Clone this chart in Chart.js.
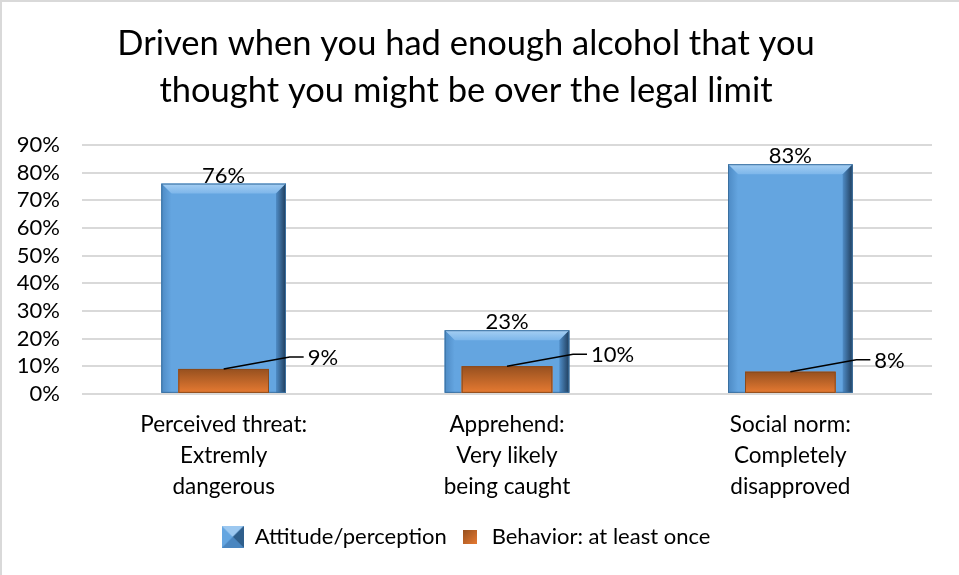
<!DOCTYPE html>
<html>
<head>
<meta charset="utf-8">
<script src="https://cdn.jsdelivr.net/npm/chart.js@4.4.0/dist/chart.umd.min.js"></script>
<style>
  html, body { margin: 0; padding: 0; background: #fff; }
  #wrap { width: 959px; height: 575px; position: relative; }
</style>
</head>
<body>
<div id="wrap"><canvas id="chart"></canvas></div>
<script>
const categories = [
    ['Perceived threat:', 'Extremly', 'dangerous'],
    ['Apprehend:', 'Very likely', 'being caught'],
    ['Social norm:', 'Completely', 'disapproved']
];
const attitudeValues = [76, 23, 83];
const behaviorValues = [9, 10, 8];
const yTicks = [0, 10, 20, 30, 40, 50, 60, 70, 80, 90];
const titleLines = ['Driven when you had enough alcohol that you', 'thought you might be over the legal limit'];

const FONT = 'Lato, "Open Sans", sans-serif';
const BLUE = '#64a5e0';
const ORANGE_TOP = '#96501f';
const ORANGE_BOTTOM = '#e67a32';

// legend swatches: bevelled blue square and shaded orange square
function makeBlueSwatch() {
    const c = document.createElement('canvas');
    c.width = 22; c.height = 22;
    const g = c.getContext('2d');
    g.fillStyle = BLUE;
    g.fillRect(0, 0, 22, 22);
    g.fillStyle = '#9cc8f0';
    g.beginPath(); g.moveTo(0, 0); g.lineTo(22, 0); g.lineTo(11, 11); g.closePath(); g.fill();
    g.fillStyle = '#2f5f8c';
    g.beginPath(); g.moveTo(22, 0); g.lineTo(22, 22); g.lineTo(11, 11); g.closePath(); g.fill();
    g.fillStyle = '#4a86c0';
    g.beginPath(); g.moveTo(0, 22); g.lineTo(22, 22); g.lineTo(11, 11); g.closePath(); g.fill();
    return c;
}
function makeOrangeSwatch() {
    const c = document.createElement('canvas');
    c.width = 14; c.height = 14;
    const g = c.getContext('2d');
    const grad = g.createLinearGradient(0, 0, 14, 14);
    grad.addColorStop(0, ORANGE_TOP);
    grad.addColorStop(1, ORANGE_BOTTOM);
    g.fillStyle = grad;
    g.fillRect(0, 0, 14, 14);
    return c;
}

// white background plus the thin frame on the top and left edges
const backgroundFrame = {
    id: 'backgroundFrame',
    beforeDraw(chart) {
        const ctx = chart.ctx;
        ctx.save();
        ctx.fillStyle = '#fff';
        ctx.fillRect(0, 0, chart.width, chart.height);
        ctx.strokeStyle = '#d9d9d9';
        ctx.lineWidth = 2;
        ctx.beginPath();
        ctx.moveTo(1, chart.height);
        ctx.lineTo(1, 1);
        ctx.lineTo(chart.width, 1);
        ctx.stroke();
        ctx.restore();
    }
};

// bevel shading on the bars, drawn right after each dataset
const barBevel = {
    id: 'barBevel',
    afterDatasetDraw(chart, args) {
        const ctx = chart.ctx;
        const meta = args.meta;
        ctx.save();
        meta.data.forEach(bar => {
            const p = bar.getProps(['x', 'y', 'base', 'width'], true);
            const l = p.x - p.width / 2, r = p.x + p.width / 2, t = p.y, b = p.base;
            if (args.index === 0) {
                const s = 10;
                // top face
                const tg = ctx.createLinearGradient(0, t, 0, t + s);
                tg.addColorStop(0, '#a6cff3');
                tg.addColorStop(1, '#7db6ea');
                ctx.fillStyle = tg;
                ctx.beginPath();
                ctx.moveTo(l, t); ctx.lineTo(r, t); ctx.lineTo(r - s, t + s); ctx.lineTo(l + s, t + s);
                ctx.closePath(); ctx.fill();
                // right side
                const rg = ctx.createLinearGradient(r - s, 0, r, 0);
                rg.addColorStop(0, '#4f8cc6');
                rg.addColorStop(1, '#1f3c5a');
                ctx.fillStyle = rg;
                ctx.beginPath();
                ctx.moveTo(r, t); ctx.lineTo(r, b); ctx.lineTo(r - s, b); ctx.lineTo(r - s, t + s);
                ctx.closePath(); ctx.fill();
                // left side
                const lg = ctx.createLinearGradient(l, 0, l + s, 0);
                lg.addColorStop(0, '#4d8ac4');
                lg.addColorStop(1, BLUE);
                ctx.fillStyle = lg;
                ctx.beginPath();
                ctx.moveTo(l, t); ctx.lineTo(l + s, t + s); ctx.lineTo(l + s, b); ctx.lineTo(l, b);
                ctx.closePath(); ctx.fill();
                ctx.strokeStyle = '#3a6f9f';
                ctx.lineWidth = 1;
                ctx.strokeRect(l + 0.5, t + 0.5, p.width - 1, b - t - 1);
            } else {
                const og = ctx.createLinearGradient(0, t, 0, b);
                og.addColorStop(0, ORANGE_TOP);
                og.addColorStop(1, ORANGE_BOTTOM);
                ctx.fillStyle = og;
                ctx.fillRect(l, t, p.width, b - t);
                ctx.strokeStyle = '#8a4a1c';
                ctx.lineWidth = 1;
                ctx.strokeRect(l + 0.5, t + 0.5, p.width - 1, b - t - 1);
            }
        });
        ctx.restore();
    }
};

// value labels: centred above the blue bars, with a leader line for the orange ones
const valueLabels = {
    id: 'valueLabels',
    afterDatasetsDraw(chart) {
        const ctx = chart.ctx;
        ctx.save();
        ctx.font = '22px ' + FONT;
        ctx.fillStyle = '#000';
        chart.getDatasetMeta(0).data.forEach((bar, i) => {
            ctx.textAlign = 'center';
            ctx.textBaseline = 'bottom';
            ctx.fillText(attitudeValues[i] + '%', bar.x, bar.y + 3);
        });
        chart.getDatasetMeta(1).data.forEach((bar, i) => {
            const ly = bar.y - 12;
            ctx.strokeStyle = '#000';
            ctx.lineWidth = 1.5;
            ctx.beginPath();
            ctx.moveTo(bar.x, bar.y);
            ctx.lineTo(bar.x + 66, ly);
            ctx.lineTo(bar.x + 80, ly);
            ctx.stroke();
            ctx.textAlign = 'left';
            ctx.textBaseline = 'middle';
            ctx.fillText(behaviorValues[i] + '%', bar.x + 84, ly + 1);
        });
        ctx.restore();
    }
};

new Chart(document.getElementById('chart'), {
    type: 'bar',
    data: {
        labels: categories,
        datasets: [{
            label: 'Attitude/perception',
            data: attitudeValues,
            backgroundColor: BLUE,
            pointStyle: makeBlueSwatch(),
            grouped: false,
            categoryPercentage: 1,
            barPercentage: 0.44,
            order: 1
        }, {
            label: 'Behavior: at least once',
            data: behaviorValues,
            backgroundColor: ORANGE_BOTTOM,
            pointStyle: makeOrangeSwatch(),
            grouped: false,
            categoryPercentage: 1,
            barPercentage: 0.32,
            order: 0
        }]
    },
    options: {
        responsive: true,
        maintainAspectRatio: false,
        animation: false,
        layout: { padding: { left: 0, right: 27, top: 20, bottom: 17 } },
        plugins: {
            title: {
                display: true,
                text: titleLines,
                color: '#000',
                font: { family: FONT, size: 34.5, weight: 'normal', lineHeight: 1.36 },
                padding: { top: 0, bottom: 31 }
            },
            legend: {
                position: 'bottom',
                labels: {
                    usePointStyle: true,
                    color: '#000',
                    font: { family: FONT, size: 22 },
                    padding: 12,
                    sort: (a, b) => a.datasetIndex - b.datasetIndex
                }
            },
            tooltip: { enabled: false }
        },
        scales: {
            y: {
                min: 0,
                max: 90,
                afterBuildTicks(scale) {
                    scale.ticks = yTicks.map(v => ({ value: v }));
                },
                afterFit(scale) { scale.width = 82; },
                border: { display: false },
                grid: { color: '#d9d9d9', lineWidth: 2, drawTicks: false },
                ticks: {
                    color: '#000',
                    padding: 22,
                    autoSkip: false,
                    font: { family: FONT, size: 22 },
                    callback: v => v + '%'
                }
            },
            x: {
                afterFit(scale) { scale.height += 5; },
                border: { display: false },
                grid: { display: false },
                ticks: {
                    color: '#000',
                    padding: 7,
                    maxRotation: 0,
                    font: { family: FONT, size: 22.5, lineHeight: 1.38 }
                }
            }
        }
    },
    plugins: [backgroundFrame, barBevel, valueLabels]
});
</script>
</body>
</html>
